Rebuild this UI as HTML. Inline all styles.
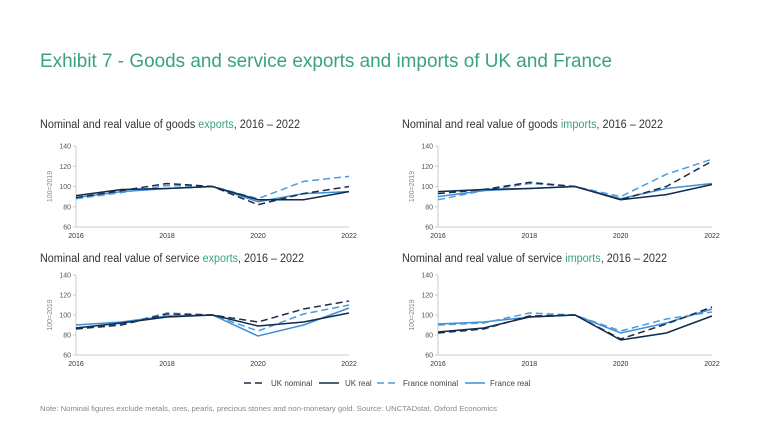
<!DOCTYPE html>
<html><head><meta charset="utf-8">
<style>
body{margin:0;width:768px;height:432px;background:#fff;overflow:hidden;font-family:"Liberation Sans",sans-serif}
svg{position:absolute;left:0;top:0}
</style></head>
<body>
<svg id="c" width="768" height="432">
<text x="40" y="67" font-size="19.5" fill="#3aa37b" textLength="572" lengthAdjust="spacingAndGlyphs">Exhibit 7 - Goods and service exports and imports of UK and France</text>
<text x="40" y="411" font-size="7.2" fill="#888" textLength="457" lengthAdjust="spacingAndGlyphs">Note: Nominal figures exclude metals, ores, pearls, precious stones and non-monetary gold. Source: UNCTADstat, Oxford Economics</text>
</svg>
<script>
const years=[2016,2017,2018,2019,2020,2021,2022];
const yTicks=[60,80,100,120,140];
const xTickLabels=['2016','2018','2020','2022'];
const seriesNames=['UK nominal','UK real','France nominal','France real'];
const goodsExpUKn=[89,96,103,100,82,93,100];
const goodsExpUKr=[91,97,98,100,87,87,95];
const goodsExpFRn=[88,94,101,100,88,105,110];
const goodsExpFRr=[89,95,98,100,85,93,95];
const goodsImpUKn=[93,97,104,100,87,100,125];
const goodsImpUKr=[95,97,98,100,87,92,102];
const goodsImpFRn=[87,96,103,100,90,112,127];
const goodsImpFRr=[90,96,98,100,88,98,103];
const servExpUKn=[86,90,101,100,93,106,114];
const servExpUKr=[87,92,98,100,89,93,102];
const servExpFRn=[87,91,102,100,84,101,110];
const servExpFRr=[90,93,99,100,79,90,107];
const servImpUKn=[82,86,99,100,76,91,108];
const servImpUKr=[83,87,98,100,75,82,99];
const servImpFRn=[90,92,102,100,84,96,103];
const servImpFRr=[91,93,98,100,82,92,106];

const NS='http://www.w3.org/2000/svg';
const svg=document.getElementById('c');
const styles=[{c:'#1c2d48',d:'7,4'},{c:'#0f2a4c',d:''},{c:'#4d9bdc',d:'7,4'},{c:'#3d8fd8',d:''}];
function mk(t,a,p){const e=document.createElementNS(NS,t);for(const k in a)e.setAttribute(k,a[k]);(p||svg).appendChild(e);return e;}
const panels=[
 {x0:76,x1:349,yt:146,yb:227,pre:'Nominal and real value of goods ',w:'exports',ty:128,tl:260,data:[goodsExpUKn,goodsExpUKr,goodsExpFRn,goodsExpFRr],n:'goods-exports'},
 {x0:438,x1:712,yt:146,yb:227,pre:'Nominal and real value of goods ',w:'imports',ty:128,tl:261,data:[goodsImpUKn,goodsImpUKr,goodsImpFRn,goodsImpFRr],n:'goods-imports'},
 {x0:76,x1:349,yt:275,yb:355,pre:'Nominal and real value of service ',w:'exports',ty:262,tl:264,data:[servExpUKn,servExpUKr,servExpFRn,servExpFRr],n:'service-exports'},
 {x0:438,x1:712,yt:275,yb:355,pre:'Nominal and real value of service ',w:'imports',ty:262,tl:265,data:[servImpUKn,servImpUKr,servImpFRn,servImpFRr],n:'service-imports'}
];
panels.forEach(p=>{
 const g=mk('g',{});
 
 
 const xs=v=>p.x0+(v-2016)/6*(p.x1-p.x0);
 const ys=v=>p.yb-(v-60)/80*(p.yb-p.yt);
 const t=mk('text',{x:p.x0-36,y:p.ty,'font-size':'11.5',fill:'#333',textLength:p.tl,lengthAdjust:'spacingAndGlyphs'},g);
 
 
 t.innerHTML=p.pre+'<tspan fill="#3aa37b">'+p.w+'</tspan>, 2016 – 2022';
 const yl=mk('line',{x1:p.x0,x2:p.x0,y1:p.yt,y2:p.yb,stroke:'#ccc','stroke-width':1},g);
 
 
 const xl=mk('line',{x1:p.x0,x2:p.x1,y1:p.yb,y2:p.yb,stroke:'#ccc','stroke-width':1},g);
 
 
 yTicks.forEach(v=>{
  const tx=mk('text',{x:p.x0-5,y:ys(v)+2.5,'font-size':'7','text-anchor':'end',fill:'#555'},g);
  
  
  tx.textContent=v;
  mk('line',{x1:p.x0-3,x2:p.x0,y1:ys(v),y2:ys(v),stroke:'#ccc'},g);
 });
 xTickLabels.forEach(s=>{
  const tx=mk('text',{x:xs(+s),y:p.yb+11,'font-size':'7','text-anchor':'middle',fill:'#333'},g);
  
  
  tx.textContent=s;
 });
 const at=mk('text',{x:0,y:0,'font-size':'7',fill:'#888','text-anchor':'middle',transform:`translate(${p.x0-24},${(p.yt+p.yb)/2}) rotate(-90)`},g);
 
 
 at.textContent='100=2019';
 [3,2,1,0].forEach(i=>{
  const pts=p.data[i].map((v,k)=>xs(years[k]).toFixed(1)+','+ys(v).toFixed(1)).join(' ');
  const l=mk('polyline',{points:pts,fill:'none',stroke:styles[i].c,'stroke-width':1.5,'stroke-dasharray':styles[i].d},g);
  
  
 });
});
const legX=[244,319,377,465];
const legT=[271,345,403,490];
seriesNames.forEach((s,i)=>{
 const g=mk('g',{});
 
 
 mk('line',{x1:legX[i],x2:legX[i]+20,y1:383,y2:383,stroke:styles[i].c,'stroke-width':1.5,'stroke-dasharray':styles[i].d?'7,4':''},g);
 const t=mk('text',{x:legT[i],y:386,'font-size':'8',fill:'#444'},g);
 t.textContent=s;
});
</script>
</body></html>
